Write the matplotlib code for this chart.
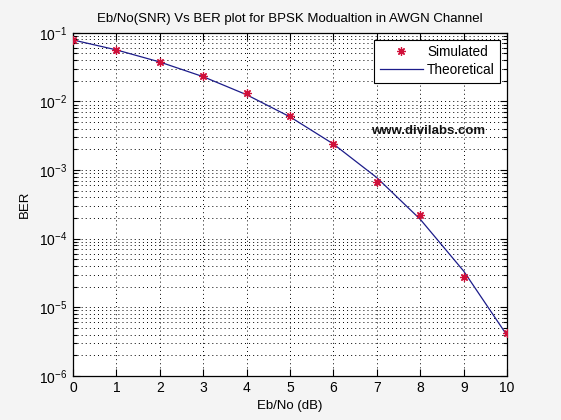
import matplotlib
matplotlib.use("Agg")
import matplotlib.pyplot as plt
from matplotlib.ticker import LogLocator, NullFormatter, FixedLocator

plt.rcParams['font.family'] = ['Liberation Sans', 'DejaVu Sans']
plt.rcParams['mathtext.default'] = 'regular'

ebno_db = [0, 1, 2, 3, 4, 5, 6, 7, 8, 9, 10]
ber_simulated = [0.0786, 0.0565, 0.0377, 0.0232, 0.0131, 0.0062, 0.00236, 0.00068,
                 0.00022, 2.8e-5, 4.2e-6]
ber_theoretical = [0.0786, 0.0563, 0.0375, 0.0229, 0.0125, 0.00595, 0.00239, 0.000773,
                   0.000191, 3.36e-5, 3.87e-6]
x_ticks = [0, 1, 2, 3, 4, 5, 6, 7, 8, 9, 10]

fig = plt.figure(figsize=(5.61, 4.20), dpi=100, facecolor='#f4f4f4')
ax = fig.add_axes([0.130, 0.105, 0.774, 0.817])
ax.set_facecolor('white')

asterisk = (8, 2, 0)
ax.semilogy(ebno_db, ber_simulated, linestyle='none', marker=asterisk,
            markersize=6, markeredgewidth=0.9, color='#d0103a', label='Simulated', zorder=3)
ax.semilogy(ebno_db, ber_theoretical, color='#1c1c8a', linewidth=0.9,
            label='Theoretical', zorder=2)

ax.set_xlim(0, 10)
ax.set_ylim(1e-6, 1e-1)
ax.xaxis.set_major_locator(FixedLocator(x_ticks))
ax.yaxis.set_major_locator(LogLocator(base=10, numticks=10))
ax.yaxis.set_minor_locator(LogLocator(base=10, subs=range(2, 10), numticks=20))
ax.yaxis.set_minor_formatter(NullFormatter())

grid_style = dict(color='black', linestyle=(0, (1, 3.2)), linewidth=0.7)
ax.grid(True, which='major', axis='both', **grid_style)
ax.grid(True, which='minor', axis='y', **grid_style)

ax.tick_params(which='both', direction='in', top=True, right=True, labelsize=10,
               width=0.8, colors='black')
ax.tick_params(which='major', length=5, pad=4)
ax.tick_params(which='minor', length=3)
for s in ax.spines.values():
    s.set_linewidth(0.9)

ax.set_title('Eb/No(SNR) Vs BER plot for BPSK Modualtion in AWGN Channel', fontsize=9.5, pad=8)
ax.set_xlabel('Eb/No (dB)', fontsize=9.5, labelpad=3)
ax.set_ylabel('BER', fontsize=9.5, labelpad=6)

leg = ax.legend(loc='upper right', fontsize=9.8, fancybox=False, framealpha=1,
                edgecolor='black', borderaxespad=0.5, handlelength=3.2,
                handletextpad=0.3, borderpad=0.4, labelspacing=0.3)
leg.get_frame().set_linewidth(0.8)

ax.text(6.87, 10**-2.43, 'www.divilabs.com', fontsize=9.5, fontweight='bold',
        color='#111111', ha='left', va='center')

fig.savefig('out.png', dpi=100, facecolor=fig.get_facecolor())
